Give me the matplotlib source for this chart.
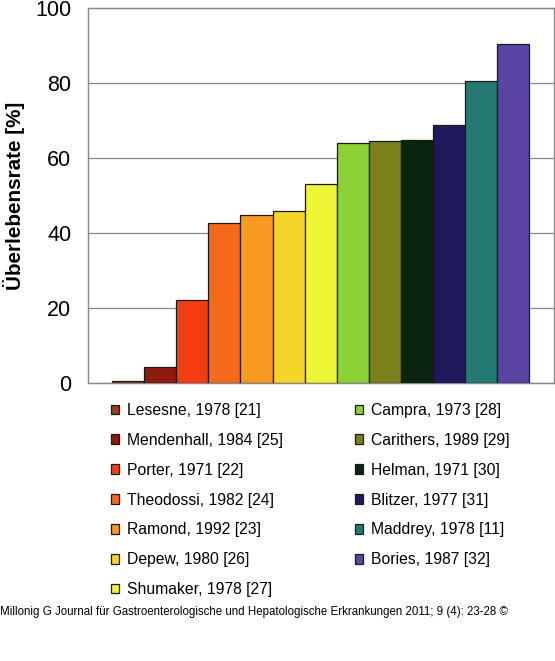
import matplotlib.pyplot as plt
import numpy as np

plt.rcParams['font.family'] = ['Liberation Sans', 'DejaVu Sans']

# studies, survival rate (%) and bar colours
studies = ["Lesesne, 1978 [21]", "Mendenhall, 1984 [25]", "Porter, 1971 [22]",
           "Theodossi, 1982 [24]", "Ramond, 1992 [23]", "Depew, 1980 [26]",
           "Shumaker, 1978 [27]", "Campra, 1973 [28]", "Carithers, 1989 [29]",
           "Helman, 1971 [30]", "Blitzer, 1977 [31]", "Maddrey, 1978 [11]",
           "Bories, 1987 [32]"]
survival = [0.5, 4.3, 22.1, 42.8, 44.8, 46.0, 53.2, 63.9, 64.4, 64.7, 68.7, 80.6, 90.5]
colors = ["#9C3D1E", "#8E1A10", "#F43E12", "#F56A1A", "#F89A20", "#F5D42A",
          "#EEF535", "#8AD235", "#7A801C", "#0A2510", "#1E1A5C", "#247A72",
          "#5A44A4"]
yticks = [0, 20, 40, 60, 80, 100]

fig = plt.figure(figsize=(5.55, 6.61), dpi=100)
ax = fig.add_axes([88/555, 1 - 383/661, 466/555, 375/661])

x = np.arange(len(survival))
bars = ax.bar(x, survival, width=1.0, color=colors, edgecolor="#1a1a1a",
              linewidth=0.9, zorder=3)

ax.set_xlim(-1.25, len(survival) + 0.27)
ax.set_ylim(0, 100)
ax.set_yticks(yticks)
ax.set_xticks([])
ax.tick_params(axis='y', length=0, labelsize=15.5, pad=12)
ax.yaxis.grid(True, color="#888888", linewidth=0.9, zorder=0)
for s in ax.spines.values():
    s.set_color("#888888")
    s.set_linewidth(1.0)
ax.set_ylabel("Überlebensrate [%]", fontsize=14.9, fontweight='bold', labelpad=7)

fig.legend(bars, studies, loc='upper left', bbox_to_anchor=(103/555, 1 - 395/661),
           ncol=2, frameon=False, fontsize=11.3, handlelength=0.55, handleheight=0.55,
           handletextpad=0.5, labelspacing=0.95, columnspacing=4.55, borderpad=0)

fig.text(0.0, 1 - 612/661, "Millonig G Journal für Gastroenterologische und Hepatologische "
         "Erkrankungen 2011; 9 (4): 23-28 ©", fontsize=8.3, va='center', ha='left')

fig.savefig("out.png", dpi=100)
